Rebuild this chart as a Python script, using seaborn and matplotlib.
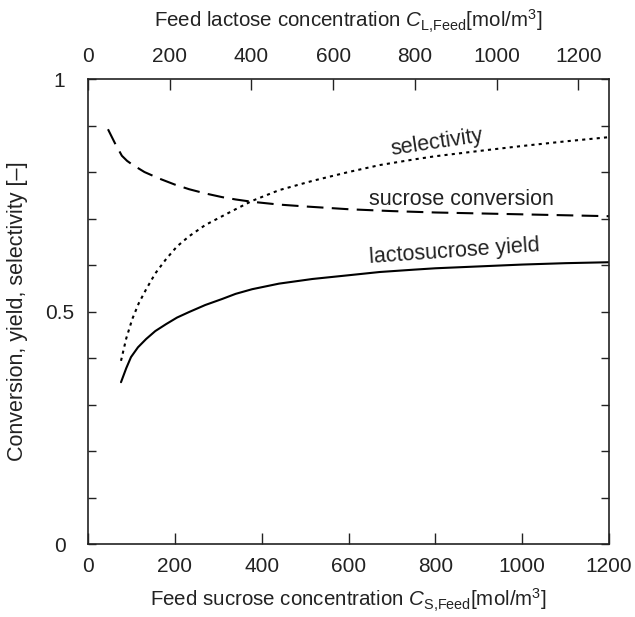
import numpy as np
import pandas as pd
import matplotlib
matplotlib.use("Agg")
import matplotlib.pyplot as plt
from matplotlib.ticker import MultipleLocator
import seaborn as sns

sns.set_theme(style="white")
plt.rcParams["font.family"] = ["Liberation Sans", "DejaVu Sans"]
plt.rcParams["mathtext.fontset"] = "custom"
plt.rcParams["mathtext.rm"] = "Liberation Sans"
plt.rcParams["mathtext.it"] = "Liberation Sans:italic"

# Feed sucrose concentration [mol/m3] and the corresponding responses
conv_x = [46, 62, 78, 90, 102, 130, 164, 200, 233, 270, 309, 340, 378, 440, 500, 600, 700, 800, 900, 1000, 1100, 1200]
conv_y = [0.892, 0.862, 0.835, 0.824, 0.816, 0.800, 0.786, 0.773, 0.763, 0.754, 0.746, 0.741, 0.736, 0.730, 0.726, 0.720, 0.716, 0.713, 0.711, 0.709, 0.707, 0.705]

sel_x = [76, 88, 102, 117, 134, 155, 180, 205, 233, 270, 309, 340, 378, 440, 517, 600, 672, 750, 800, 916, 1000, 1100, 1200]
sel_y = [0.394, 0.442, 0.484, 0.518, 0.548, 0.582, 0.613, 0.640, 0.662, 0.686, 0.705, 0.720, 0.738, 0.761, 0.781, 0.800, 0.815, 0.827, 0.834, 0.847, 0.856, 0.866, 0.875]

yield_x = [76, 88, 99, 115, 134, 155, 180, 205, 233, 270, 309, 340, 378, 440, 517, 600, 672, 750, 800, 900, 1000, 1100, 1200]
yield_y = [0.348, 0.378, 0.402, 0.423, 0.441, 0.458, 0.473, 0.487, 0.499, 0.514, 0.527, 0.538, 0.548, 0.560, 0.570, 0.578, 0.585, 0.590, 0.593, 0.597, 0.601, 0.604, 0.606]

bottom_ticks = [0, 200, 400, 600, 800, 1000, 1200]
top_ticks = [0, 200, 400, 600, 800, 1000, 1200]
lactose_max = 1275

ink = "#222222"
tick_fs = 15
label_fs = 14.8
curve_fs = 15.5

fig = plt.figure(figsize=(6.35, 6.17), dpi=100)
ax = fig.add_axes([0.1386, 0.1183, 0.8205, 0.7536])

conv = pd.DataFrame({"x": conv_x, "y": conv_y})
sel = pd.DataFrame({"x": sel_x, "y": sel_y})
yld = pd.DataFrame({"x": yield_x, "y": yield_y})

sns.lineplot(data=conv, x="x", y="y", ax=ax, color="black", lw=1.5,
             linestyle=(0, (8, 4)), sort=False)
sns.lineplot(data=sel, x="x", y="y", ax=ax, color="black", lw=1.5,
             linestyle=(0, (1.5, 2)), sort=False)
sns.lineplot(data=yld, x="x", y="y", ax=ax, color="black", lw=1.5, sort=False)

ax.set_xlim(0, 1200)
ax.set_ylim(0, 1)
ax.set_xticks(bottom_ticks)
ax.set_yticks([0, 0.5, 1])
ax.set_yticklabels(["0", "0.5", "1"])
ax.yaxis.set_minor_locator(MultipleLocator(0.1))
ax.tick_params(axis="x", which="both", direction="in", length=8, width=1,
               color=ink, labelcolor=ink, labelsize=tick_fs, pad=9)
ax.tick_params(axis="y", which="both", direction="in", length=6, width=1,
               color=ink, labelcolor=ink, labelsize=tick_fs, pad=20.5,
               left=True, right=True)
for lab in ax.get_yticklabels():
    lab.set_horizontalalignment("center")
for s in ax.spines.values():
    s.set_color(ink)
    s.set_linewidth(1.2)

ax.set_xlabel(r"Feed sucrose concentration $\mathit{C}_{\mathrm{S{,}Feed}}$[mol/m$^3$]",
              fontsize=label_fs, color=ink)
ax.xaxis.set_label_coords(0.5, -0.093)
ax.set_ylabel("Conversion, yield, selectivity [\u2013]", fontsize=15.5, color=ink)
ax.yaxis.set_label_coords(-0.115, 0.5)

top = ax.twiny()
top.set_xlim(0, lactose_max)
top.set_xticks(top_ticks)
top.tick_params(axis="x", direction="in", length=8, width=1, color=ink,
                labelcolor=ink, labelsize=tick_fs, pad=9.5)
top.set_xlabel(r"Feed lactose concentration $\mathit{C}_{\mathrm{L{,}Feed}}$[mol/m$^3$]",
               fontsize=label_fs, color=ink)
top.xaxis.set_label_coords(0.5, 1.11)
for s in top.spines.values():
    s.set_visible(False)

ax.text(803, 0.862, "selectivity", fontsize=curve_fs, color=ink, rotation=8.5,
        ha="center", va="center")
ax.text(861, 0.740, "sucrose conversion", fontsize=curve_fs, color=ink,
        ha="center", va="center")
ax.text(845, 0.628, "lactosucrose yield", fontsize=curve_fs, color=ink, rotation=4,
        ha="center", va="center")

ax.set_facecolor("white")
fig.patch.set_facecolor("white")
fig.savefig("out.png", dpi=100, facecolor="white")
